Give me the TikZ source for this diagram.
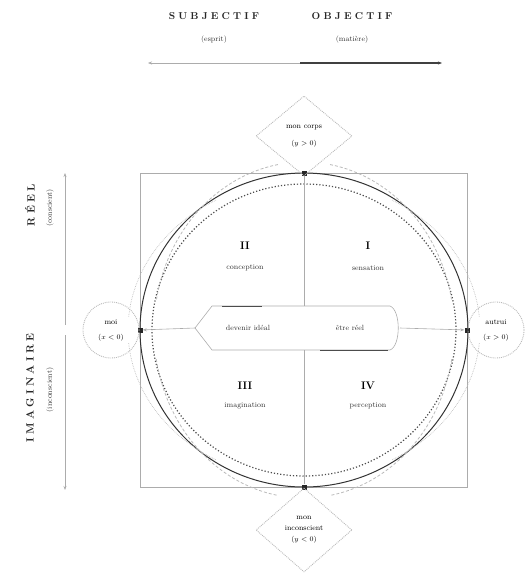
\documentclass[tikz,border=0pt]{standalone}
\usepackage{fontspec}
\newfontfamily\spacedfont[LetterSpace=32]{Latin Modern Roman}
\usetikzlibrary{shapes.geometric,arrows.meta}
\begin{document}
\begin{tikzpicture}[x=1pt,y=-1pt,
  axis/.style={draw=gray!65, line width=0.6pt},
  ell/.style={draw=black!80, line width=1pt},
  lbl/.style={font=\fontsize{7.5}{9}\selectfont, inner sep=1pt, align=center, text=black!80},
  head/.style={font=\spacedfont\bfseries\fontsize{10}{11}\selectfont, inner sep=1pt, text=black!85},
  num/.style={font=\bfseries\fontsize{11}{12}\selectfont, inner sep=1pt},
  dot/.style={rectangle, fill=black!85, minimum size=5pt, inner sep=0pt},
  dia/.style={diamond, draw=gray!55, densely dotted, line width=0.9pt, minimum width=96pt, minimum height=80pt, inner sep=0pt, align=center, font=\fontsize{7.5}{9}\selectfont},
  circ/.style={circle, draw=gray!55, densely dotted, line width=0.9pt, minimum size=56pt, inner sep=0pt, align=center, font=\fontsize{7.5}{9}\selectfont},
  arr/.style={-{Stealth[length=4pt,width=3pt]}}
]
\useasboundingbox (0,0) rectangle (525,574);

% headings
\node[head] (subj) at (214,16) {SUBJECTIF};
\node[lbl] (subjl) at (214,40) {(esprit)};
\node[head] (obj) at (352,16) {OBJECTIF};
\node[lbl] (objl) at (352,40) {(matière)};
\coordinate (tc) at (300,63);
\coordinate (tl) at (148,63);
\coordinate (tr) at (442,63);
\draw[axis, arr, line width=0.4pt] (tc) -- (tl);
\draw[draw=black!75, line width=1.1pt, arr] (tc) -- (tr);

% left ruler
\node[head, rotate=90, font=\spacedfont\bfseries\fontsize{10.5}{11}\selectfont] (reel) at (30,205) {RÉEL};
\node[lbl, rotate=90] (reell) at (50,208) {(conscient)};
\node[head, rotate=90, font=\spacedfont\bfseries\fontsize{10.5}{11}\selectfont] (imag) at (30,388) {IMAGINAIRE};
\node[lbl, rotate=90] (imagl) at (50,390) {(inconscient)};
\coordinate (rm1) at (65,325);
\coordinate (rm2) at (65,335);
\coordinate (rt) at (65,173);
\coordinate (rb) at (65,490);
\draw[axis, arr] (rm1) -- (rt);
\draw[axis, arr] (rm2) -- (rb);

% frame square
\draw[axis] (140,173) rectangle (467,487);

% ellipses and arcs
\draw[ell] (304,330) ellipse [x radius=164pt, y radius=157pt];
\draw[black!70, line width=1.2pt, dotted] (304,330) ellipse [x radius=152pt, y radius=146pt];
\foreach \a/\b in {100/170, 190/260, 80/10, -10/-80}{
  \draw[gray!55, line width=0.8pt, densely dashed] (304,330) ++(\a:150pt and 168pt) arc [start angle=\a, end angle=\b, x radius=150pt, y radius=168pt];
}
\foreach \a/\b in {120/175, 185/240, 60/5, -5/-60}{
  \draw[gray!50, line width=0.7pt, densely dotted] (304,330) ++(\a:176pt and 150pt) arc [start angle=\a, end angle=\b, x radius=176pt, y radius=150pt];
}

% dots
\node[dot] (T) at (304,173) {};
\node[dot] (B) at (304,487) {};
\node[dot] (L) at (140,330) {};
\node[dot] (R) at (467,330) {};

% diamonds and circles
\node[dia] (td) at (304,136) {mon corps\\[8pt]$(y>0)$};
\node[dia, minimum height=84pt] (bd) at (304,530) {mon\\[2pt]inconscient\\[2pt]$(y<0)$};
\node[circ] (lc) at (111,330) {moi\\[6pt]$(x<0)$};
\node[circ] (rc) at (496,330) {autrui\\[6pt]$(x>0)$};

% central hexagon
\coordinate (hl) at (195,328);
\coordinate (hr) at (400,328);
\coordinate (ht) at (304,306);
\coordinate (hb) at (304,350);
\draw[axis] (hl) -- (212,306) -- (390,306) .. controls (401,310) and (401,346) .. (390,350) -- (212,350) -- cycle;
\draw[black!70, line width=1pt] (222,306) -- (262,306);
\draw[black!70, line width=1pt] (320,350) -- (388,350);
\node[lbl] (hx1) at (248,328) {devenir idéal};
\node[lbl] (hx2) at (350,328) {être réel};

% axes
\draw[axis] (T) -- (ht);
\draw[axis] (hb) -- (B);
\draw[axis, arr] (hl) -- (L);
\draw[axis, arr] (hr) -- (R);

% quadrants
\node[num] (q2) at (245,246) {II};
\node[lbl] (q2l) at (245,268) {conception};
\node[num] (q1) at (368,246) {I};
\node[lbl] (q1l) at (368,268) {sensation};
\node[num] (q3) at (245,386) {III};
\node[lbl] (q3l) at (245,406) {imagination};
\node[num] (q4) at (368,386) {IV};
\node[lbl] (q4l) at (368,406) {perception};
\end{tikzpicture}
\end{document}
